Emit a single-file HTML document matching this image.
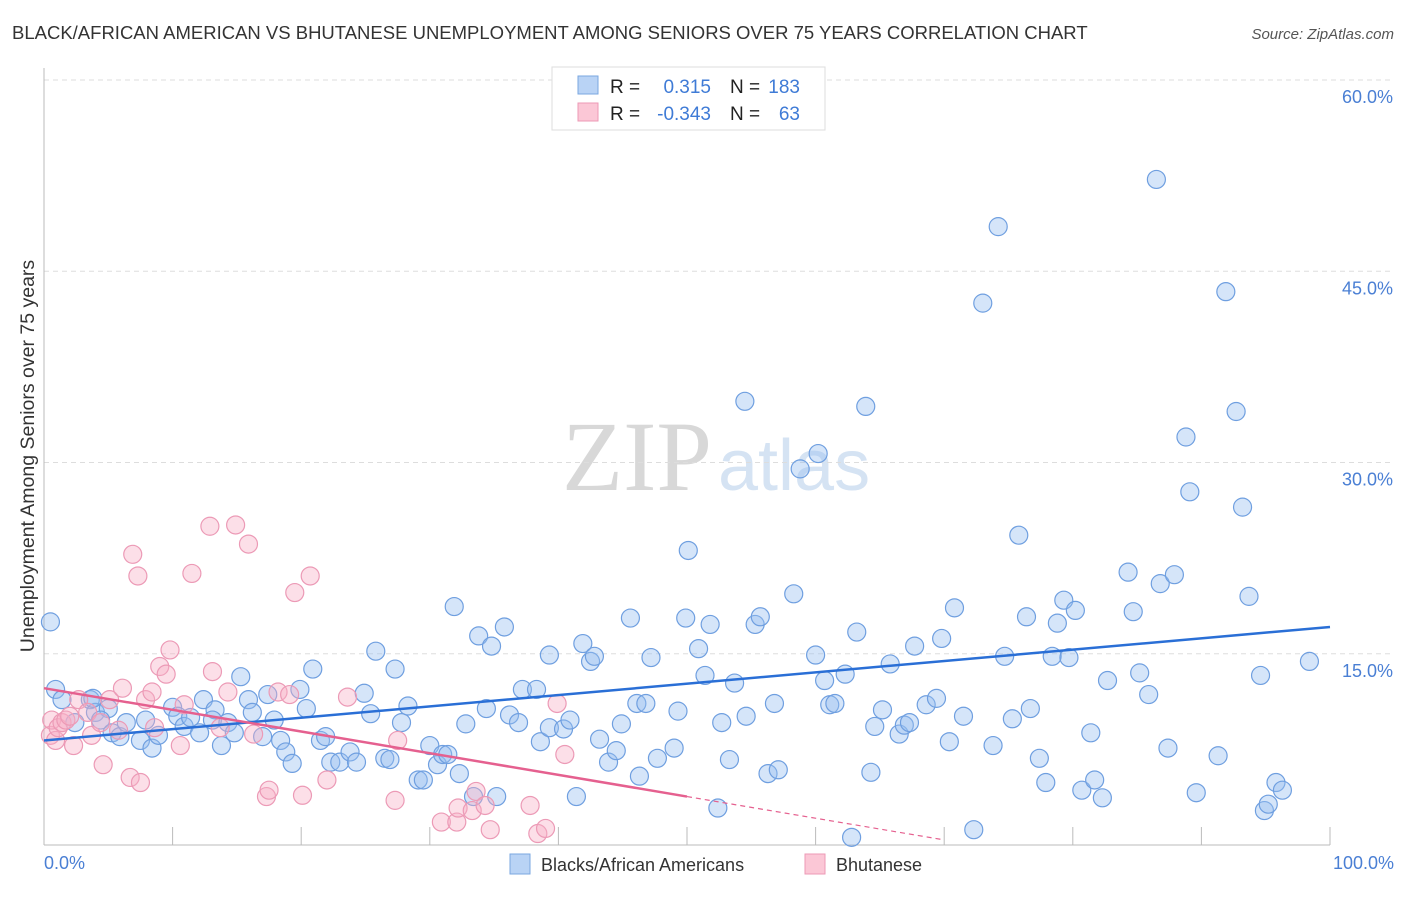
<!DOCTYPE html>
<html><head><meta charset="utf-8">
<style>
body{margin:0;background:#fff;font-family:"Liberation Sans",sans-serif;}
svg text{font-family:"Liberation Sans",sans-serif;}
</style></head>
<body>
<svg id="chart" width="1406" height="892">
<text x="12" y="39" font-size="18.5" fill="#333">BLACK/AFRICAN AMERICAN VS BHUTANESE UNEMPLOYMENT AMONG SENIORS OVER 75 YEARS CORRELATION CHART</text>
<text x="1394" y="39" font-size="15" fill="#555" font-style="italic" text-anchor="end">Source: ZipAtlas.com</text>
<g>
<text x="712" y="490" font-size="100" fill="#d8d8d8" text-anchor="end" style="font-family:'Liberation Serif',serif">ZIP</text>
<text x="718" y="490" font-size="72" fill="#c8daf0" opacity="0.75">atlas</text>
</g>
<g id="grid"></g>
<g id="axes"></g>
<g id="pts"></g>
<g id="trend"></g>
<text transform="translate(34,456) rotate(-90)" font-size="19.5" fill="#333" text-anchor="middle">Unemployment Among Seniors over 75 years</text>
<text x="44" y="869" font-size="18" fill="#4a7fd4">0.0%</text>
<text x="1394" y="869" font-size="18" fill="#4a7fd4" text-anchor="end">100.0%</text>
<g>
<rect x="552" y="67" width="273" height="63" fill="#fff" stroke="#ddd"/>
<rect x="578" y="76" width="20" height="18" fill="#b9d3f5" stroke="#7aa7e0"/>
<rect x="578" y="103" width="20" height="18" fill="#fbc7d6" stroke="#ec9ab6"/>
<text x="610" y="93" font-size="19" fill="#222">R =</text>
<text x="711" y="93" font-size="19" fill="#3f7bd6" text-anchor="end">0.315</text>
<text x="730" y="93" font-size="19" fill="#222">N =</text>
<text x="800" y="93" font-size="19" fill="#3f7bd6" text-anchor="end">183</text>
<text x="610" y="120" font-size="19" fill="#222">R =</text>
<text x="711" y="120" font-size="19" fill="#3f7bd6" text-anchor="end">-0.343</text>
<text x="730" y="120" font-size="19" fill="#222">N =</text>
<text x="800" y="120" font-size="19" fill="#3f7bd6" text-anchor="end">63</text>
</g>
<g>
<rect x="510" y="854" width="20" height="20" fill="#b9d3f5" stroke="#7aa7e0"/>
<text x="541" y="871" font-size="18" fill="#333">Blacks/African Americans</text>
<rect x="805" y="854" width="20" height="20" fill="#fbc7d6" stroke="#ec9ab6"/>
<text x="836" y="871" font-size="18" fill="#333">Bhutanese</text>
</g>
</svg>
<script>
const yTicks=[15,30,45,60];
const yTickLabels=["15.0%","30.0%","45.0%","60.0%"];
const xTicks=[0,10,20,30,40,50,60,70,80,90,100];
const blueX=[0.5,0.9,1.4,2.4,3.6,4.0,3.8,5.0,4.4,5.3,5.9,6.4,7.5,7.9,8.4,8.9,10.0,10.4,10.9,11.4,12.1,12.4,13.3,13.1,13.8,14.3,14.8,15.3,15.9,16.2,17.0,17.4,17.9,18.4,18.8,19.3,19.9,20.4,20.9,21.5,21.9,22.3,23.0,23.8,24.3,24.9,25.4,25.8,26.5,26.9,27.3,27.8,28.3,29.1,29.5,30.0,30.6,31.0,31.4,31.9,32.3,32.8,33.4,33.8,34.4,34.8,35.2,35.8,36.2,36.9,37.2,38.3,38.6,39.3,39.3,40.4,40.9,41.4,41.9,42.5,42.8,43.2,43.9,44.5,44.9,45.6,46.1,46.3,46.8,47.2,47.7,49.0,49.3,49.9,50.1,50.9,51.4,51.8,52.4,52.7,53.3,53.7,54.6,55.3,55.7,56.3,56.8,57.1,58.3,58.8,60.0,60.2,60.7,61.1,61.5,62.3,62.8,63.2,63.9,64.3,64.6,65.2,65.8,66.5,66.9,67.3,67.7,68.6,69.4,69.8,70.4,70.8,71.5,72.3,73.0,73.8,74.2,74.7,75.3,75.8,76.4,76.7,77.4,77.9,78.4,78.8,79.3,79.7,80.2,80.7,81.4,81.7,82.3,82.7,84.3,84.7,85.2,85.9,86.5,86.8,87.4,87.9,88.8,89.1,89.6,91.3,91.9,92.7,93.2,93.7,94.6,94.9,95.2,95.8,96.3,98.4,54.5];
const blueY=[17.5,12.2,11.4,9.6,11.4,10.4,11.5,10.7,9.8,8.8,8.5,9.6,8.2,9.8,7.6,8.6,10.8,10.1,9.3,10.0,8.8,11.4,10.6,9.8,7.8,9.6,8.8,13.2,11.4,10.4,8.5,11.8,9.8,8.2,7.3,6.4,12.2,10.7,13.8,8.2,8.5,6.5,6.5,7.3,6.5,11.9,10.3,15.2,6.8,6.7,13.8,9.6,10.9,5.1,5.1,7.8,6.3,7.1,7.1,18.7,5.6,9.5,3.8,16.4,10.7,15.6,3.8,17.1,10.2,9.6,12.2,12.2,8.1,9.2,14.9,9.1,9.8,3.8,15.8,14.4,14.8,8.3,6.5,7.4,9.5,17.8,11.1,5.4,11.1,14.7,6.8,7.6,10.5,17.8,23.1,15.4,13.3,17.3,2.9,9.6,6.7,12.7,10.1,17.3,17.9,5.6,11.1,5.9,19.7,29.5,14.9,30.7,12.9,11.0,11.1,13.4,0.6,16.7,34.4,5.7,9.3,10.6,14.2,8.7,9.4,9.6,15.6,11.0,11.5,16.2,8.1,18.6,10.1,1.2,42.5,7.8,48.5,14.8,9.9,24.3,17.9,10.7,6.8,4.9,14.8,17.4,19.2,14.7,18.4,4.3,8.8,5.1,3.7,12.9,21.4,18.3,13.5,11.8,52.2,20.5,7.6,21.2,32.0,27.7,4.1,7.0,43.4,34.0,26.5,19.5,13.3,2.7,3.2,4.9,4.3,14.4,34.8];
const pinkX=[0.5,0.6,0.9,1.1,1.4,1.7,2.0,2.3,2.7,3.4,3.7,4.4,4.6,5.1,5.8,6.1,6.7,6.9,7.3,7.5,7.9,8.4,8.6,9.0,9.5,9.8,10.6,10.9,11.5,12.9,13.1,13.7,14.3,14.9,15.9,16.3,17.3,17.5,18.2,19.1,19.5,20.1,20.7,22.0,23.6,27.3,27.5,30.9,32.1,32.2,33.3,33.6,34.3,34.7,37.8,38.4,39.0,39.9,40.5];
const pinkY=[8.6,9.8,8.2,9.2,9.6,9.8,10.1,7.8,11.4,10.4,8.6,9.6,6.3,11.4,9.0,12.3,5.3,22.8,21.1,4.9,11.4,12.0,9.2,14.0,13.4,15.3,7.8,11.0,21.3,25.0,13.6,9.2,12.0,25.1,23.6,8.7,3.8,4.3,12.0,11.8,19.8,3.9,21.1,5.1,11.6,3.5,8.2,1.8,1.8,2.9,2.7,4.2,3.1,1.2,3.1,0.9,1.3,11.1,7.1];
const blueTrend=[0,8.2,100,17.1];
const pinkTrend=[0,12.3,50,3.8,70,0.4];

const X0=44,X1=1330,Y0=845,PXPER=12.75;
function sx(v){return X0+(X1-X0)*v/100;}
function sy(v){return Y0-v*PXPER;}
const NS="http://www.w3.org/2000/svg";
function mk(tag,attrs,parent){const e=document.createElementNS(NS,tag);for(const k in attrs)e.setAttribute(k,attrs[k]);parent.appendChild(e);return e;}
const grid=document.getElementById('grid'),axes=document.getElementById('axes'),pts=document.getElementById('pts'),trend=document.getElementById('trend');
yTicks.forEach((t,i)=>{
  const l=mk('line',{x1:X0,x2:1394,y1:sy(t),y2:sy(t),stroke:'#ddd','stroke-dasharray':'5,4'},grid);
  
  
  const tx=mk('text',{x:1393,y:sy(t)+23,'font-size':18,fill:'#4a7fd4','text-anchor':'end'},grid);
  tx.textContent=yTickLabels[i];
  
  
});
const ya=mk('line',{x1:X0,x2:X0,y1:68,y2:Y0,stroke:'#bbb'},axes);


const xa=mk('line',{x1:X0,x2:X1,y1:Y0,y2:Y0,stroke:'#bbb'},axes);


xTicks.forEach(t=>{
  const l=mk('line',{x1:sx(t),x2:sx(t),y1:Y0,y2:Y0-18,stroke:'#bbb'},axes);
  
  
});
blueX.forEach((x,i)=>{
  const c=mk('circle',{cx:sx(x),cy:sy(blueY[i]),r:9,fill:'rgba(150,190,240,0.4)',stroke:'#6f9fe0','stroke-width':1.2},pts);
  
  
});
pinkX.forEach((x,i)=>{
  const c=mk('circle',{cx:sx(x),cy:sy(pinkY[i]),r:9,fill:'rgba(248,175,198,0.4)',stroke:'#ec9ab6','stroke-width':1.2},pts);
  
  
});
const bt=mk('line',{x1:sx(blueTrend[0]),y1:sy(blueTrend[1]),x2:sx(blueTrend[2]),y2:sy(blueTrend[3]),stroke:'#2a6fd6','stroke-width':2.5},trend);


const pt=mk('line',{x1:sx(pinkTrend[0]),y1:sy(pinkTrend[1]),x2:sx(pinkTrend[2]),y2:sy(pinkTrend[3]),stroke:'#e5608f','stroke-width':2.5},trend);


const pd=mk('line',{x1:sx(pinkTrend[2]),y1:sy(pinkTrend[3]),x2:sx(pinkTrend[4]),y2:sy(pinkTrend[5]),stroke:'#e5608f','stroke-width':1.2,'stroke-dasharray':'5,4'},trend);


</script>
</body></html>
